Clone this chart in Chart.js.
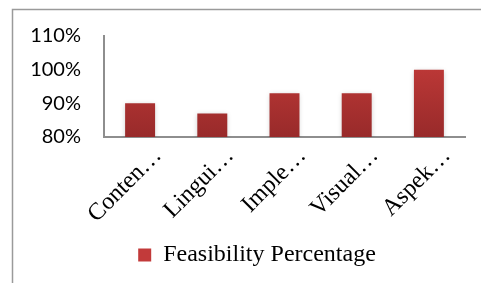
<!DOCTYPE html>
<html>
<head>
<meta charset="utf-8">
<script src="https://cdn.jsdelivr.net/npm/chart.js@4/dist/chart.umd.min.js"></script>
<style>
html,body{margin:0;padding:0;background:#fff;}
#wrap{width:481px;height:283px;position:relative;}
</style>
</head>
<body>
<div id="wrap"><canvas id="c" width="481" height="283"></canvas></div>
<script>
const categories = ["Conten\u2026", "Lingui\u2026", "Imple\u2026", "Visual\u2026", "Aspek\u2026"];
const feasibility = [0.90, 0.87, 0.93, 0.93, 1.00];
const seriesName = "Feasibility Percentage";
const yMin = 0.8, yMax = 1.1, yStep = 0.1;

const frame = {
  id: 'frame',
  beforeDraw(chart) {
    const ctx = chart.ctx;
    ctx.save();
    ctx.fillStyle = '#fff';
    ctx.fillRect(0, 0, chart.width, chart.height);
    ctx.strokeStyle = '#9a9a9a';
    ctx.lineWidth = 1.5;
    ctx.beginPath();
    ctx.moveTo(12.5, chart.height);
    ctx.lineTo(12.5, 9.5);
    ctx.lineTo(chart.width, 9.5);
    ctx.stroke();
    ctx.restore();
  }
};
const shadow = {
  id: 'shadow',
  beforeDatasetDraw(chart) {
    const ctx = chart.ctx;
    ctx.save();
    ctx.shadowColor = 'rgba(0,0,0,0.22)';
    ctx.shadowBlur = 5;
    ctx.shadowOffsetY = 1;
  },
  afterDatasetDraw(chart) { chart.ctx.restore(); }
};
const legendShift = {
  id: 'legendShift',
  afterLayout(chart) {
    const lg = chart.legend;
    if (lg) { lg.left += 12; lg.right += 12; }
  }
};

function barGradient(context) {
  const chart = context.chart;
  const area = chart.chartArea;
  if (!area) return '#b53535';
  const el = context.element;
  const top = el && el.y !== undefined && isFinite(el.y) ? el.y : area.top;
  const bottom = area.bottom;
  const g = chart.ctx.createLinearGradient(0, top, 0, bottom);
  g.addColorStop(0, '#cc3e3c');
  g.addColorStop(1, '#982a2a');
  return g;
}

new Chart(document.getElementById('c'), {
  type: 'bar',
  data: {
    labels: categories,
    datasets: [{
      label: seriesName,
      data: feasibility,
      backgroundColor: barGradient,
      borderWidth: 0,
      barPercentage: 0.415,
      categoryPercentage: 1.0
    }]
  },
  options: {
    responsive: false,
    animation: false,
    layout: { padding: { left: 25, right: 16, top: 36, bottom: 6 } },
    scales: {
      x: {
        grid: { display: false, drawTicks: false },
        border: { display: true, color: '#8e8e8e', width: 2 },
        ticks: {
          autoSkip: false,
          minRotation: 45, maxRotation: 45,
          labelOffset: 18,
          padding: 5,
          color: '#000',
          font: { family: '"Liberation Serif", "Times New Roman", serif', size: 24 }
        },
        afterFit(scale) { scale.height = 96; }
      },
      y: {
        min: yMin, max: yMax,
        grid: { display: false, drawTicks: false },
        border: { display: true, color: '#8e8e8e', width: 2 },
        ticks: {
          stepSize: yStep,
          padding: 23,
          color: '#000',
          font: { family: 'Lato, "Liberation Sans", sans-serif', size: 20 },
          callback: v => Math.round(v * 100) + '%'
        },
        afterFit(scale) { scale.width = 79; }
      }
    },
    plugins: {
      legend: {
        position: 'bottom',
        labels: {
          boxWidth: 13, boxHeight: 13,
          color: '#000',
          font: { family: '"Liberation Serif", "Times New Roman", serif', size: 24 },
          generateLabels(chart) {
            const items = Chart.defaults.plugins.legend.labels.generateLabels(chart);
            items.forEach(it => { it.fillStyle = '#c23a3a'; it.strokeStyle = '#c23a3a'; it.lineWidth = 0; });
            return items;
          }
        }
      },
      tooltip: { enabled: false }
    }
  },
  plugins: [frame, shadow, legendShift]
});
</script>
</body>
</html>
